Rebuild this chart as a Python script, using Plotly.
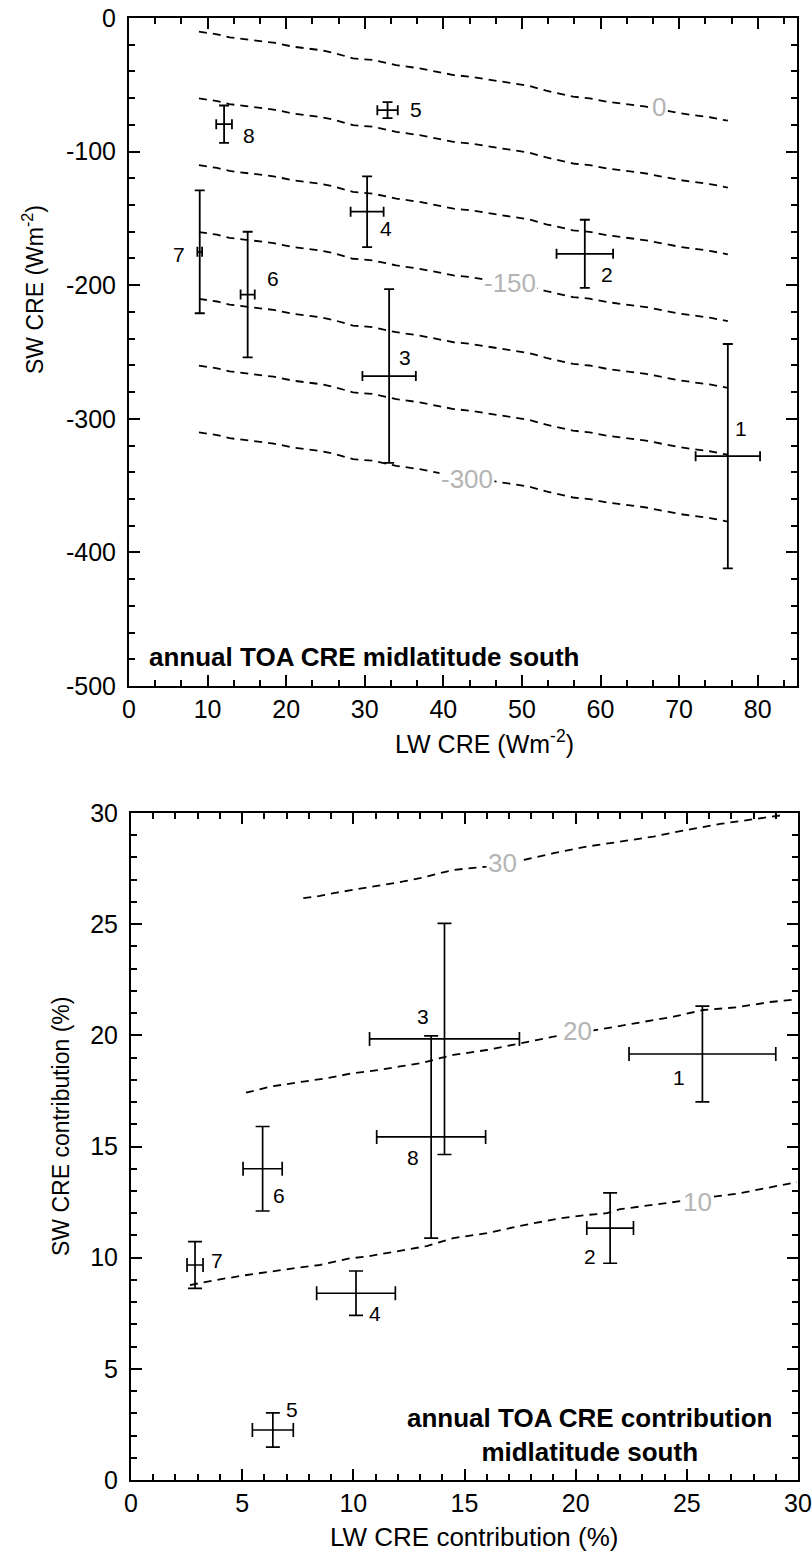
import plotly.graph_objects as go

# ---------------- data ----------------
point_ids = ["1", "2", "3", "4", "5", "6", "7", "8"]

# annual TOA CRE, midlatitude south (W m-2)
lw_cre = [76.2, 58.0, 33.1, 30.3, 32.9, 15.1, 9.0, 12.1]
lw_cre_err = [4.1, 3.6, 3.4, 2.1, 1.3, 0.9, 0.3, 1.0]
sw_cre = [-328.0, -176.5, -268.0, -145.0, -69.0, -207.0, -175.0, -79.5]
sw_cre_err = [84.0, 25.5, 65.0, 26.5, 6.0, 47.0, 46.0, 14.0]

# net CRE isolines: the zero line as traced, other levels are offsets of it
net_levels = [0, -50, -100, -150, -200, -250, -300]
net_zero_lw = [8.9, 11.2, 12.8, 17.5, 18.4, 20.9, 24.3, 26.0, 28.5, 31.0, 32.3, 34.0,
               37.0, 41.3, 43.4, 48.9, 51.0, 53.1, 56.5, 58.6, 60.8, 65.8, 70.1, 73.9, 76.2]
net_zero_sw = [-10.2, -12.2, -14.5, -17.7, -18.5, -21.5, -24.0, -26.0, -30.2, -31.4, -33.2, -35.2,
               -37.7, -42.7, -43.9, -48.9, -50.9, -54.4, -58.9, -60.1, -62.6, -66.4, -71.3, -74.3, -76.9]
net_labels = ["0", "-150", "-300"]
net_label_lw = [67.5, 48.5, 43.0]
net_label_sw = [-66.6, -198.4, -345.0]

# annual TOA CRE contribution, midlatitude south (%)
lw_pct = [25.7, 21.55, 14.1, 10.12, 6.38, 5.92, 2.88, 13.5]
lw_pct_err = [3.3, 1.05, 3.37, 1.77, 0.92, 0.88, 0.36, 2.45]
sw_pct = [19.16, 11.33, 19.84, 8.4, 2.25, 14.0, 9.67, 15.43]
sw_pct_err = [2.15, 1.58, 5.2, 1.0, 0.77, 1.9, 1.05, 4.55]

# contribution isolines (10, 20, 30 %)
iso10_lw = [2.65, 3.85, 5.2, 5.95, 7.3, 8.5, 9.85, 10.6, 11.95, 13.3, 14.5, 16.0, 17.5,
            19.3, 20.5, 21.4, 22.0, 23.5, 24.7, 26.2, 27.4, 28.75, 29.95]
iso10_sw = [8.77, 9.0, 9.22, 9.33, 9.52, 9.67, 9.97, 10.05, 10.27, 10.52, 10.88, 11.1, 11.43,
            11.77, 11.92, 12.0, 12.18, 12.37, 12.52, 12.74, 12.9, 13.17, 13.4]
iso20_lw = [5.17, 6.25, 7.75, 8.8, 10.0, 11.2, 12.1, 13.0, 13.9, 14.5, 16.0, 17.5, 19.0,
            21.1, 22.75, 24.4, 25.75, 27.25, 28.75, 29.95]
iso20_sw = [17.42, 17.69, 17.92, 18.07, 18.3, 18.45, 18.6, 18.74, 18.97, 19.12, 19.34, 19.64, 19.94,
            20.27, 20.54, 20.84, 21.14, 21.26, 21.5, 21.62]
iso30_lw = [7.75, 8.5, 9.25, 10.45, 11.5, 12.25, 13.0, 13.9, 14.5, 16.0, 17.8, 19.0, 20.5,
            22.0, 23.5, 25.0, 26.5, 28.0, 29.35]
iso30_sw = [26.17, 26.27, 26.42, 26.62, 26.77, 26.92, 27.07, 27.29, 27.44, 27.59, 27.92, 28.19, 28.49,
            28.71, 28.94, 29.24, 29.51, 29.72, 29.91]
iso_labels = ["30", "20", "10"]
iso_label_lw = [16.73, 20.1, 25.46]
iso_label_sw = [27.76, 20.2, 12.5]

# tick labels
top_x_ticks = [0, 10, 20, 30, 40, 50, 60, 70, 80]
top_y_ticks = [0, -100, -200, -300, -400, -500]
top_y_ticktext = ["0", "-100", "-200", "-300", "-400", "-500"]
pct_ticks = [0, 5, 10, 15, 20, 25, 30]

# ---------------- styling ----------------
W, H = 812, 1558
FONT = "Liberation Sans, Arial, Helvetica, sans-serif"
GREY = "#b4b4b4"

# pixel offsets of the numbered labels relative to their crosses
top_label_shift = [(13, 28), (22, -21), (16, 19), (19, -17), (28, 1), (25, 16), (-21, -3), (25, -11)]
bot_label_shift = [(-23, -23), (-20, -28), (-21, 22), (19, -20), (19, 20), (16, -27), (22, 5), (-18, -21)]


def px_x(p):
    return p / W


def px_y(p):
    return 1 - p / H


fig = go.Figure()

# net CRE dashed isolines
for lev in net_levels:
    fig.add_trace(go.Scatter(
        x=net_zero_lw, y=[v + lev for v in net_zero_sw], mode="lines",
        line=dict(color="black", width=1.8, dash="8px,6px"),
        xaxis="x", yaxis="y", hoverinfo="skip", showlegend=False))

# top panel error crosses
fig.add_trace(go.Scatter(
    x=lw_cre, y=sw_cre, mode="markers", marker=dict(size=1, color="black"),
    error_x=dict(type="data", array=lw_cre_err, color="black", thickness=1.8, width=5),
    error_y=dict(type="data", array=sw_cre_err, color="black", thickness=1.8, width=5),
    xaxis="x", yaxis="y", showlegend=False))

# contribution isolines
for xs, ys in [(iso10_lw, iso10_sw), (iso20_lw, iso20_sw), (iso30_lw, iso30_sw)]:
    fig.add_trace(go.Scatter(
        x=xs, y=ys, mode="lines",
        line=dict(color="black", width=1.8, dash="8px,6px"),
        xaxis="x2", yaxis="y2", hoverinfo="skip", showlegend=False))

# bottom panel error crosses
fig.add_trace(go.Scatter(
    x=lw_pct, y=sw_pct, mode="markers", marker=dict(size=1, color="black"),
    error_x=dict(type="data", array=lw_pct_err, color="black", thickness=1.7, width=7),
    error_y=dict(type="data", array=sw_pct_err, color="black", thickness=1.7, width=7),
    xaxis="x2", yaxis="y2", showlegend=False))

annotations = []
for i, lab in enumerate(point_ids):
    dx, dy = top_label_shift[i]
    annotations.append(dict(x=lw_cre[i], y=sw_cre[i], xref="x", yref="y", text=lab,
                            showarrow=False, xshift=dx, yshift=dy,
                            font=dict(family=FONT, size=21, color="black")))
    dx, dy = bot_label_shift[i]
    annotations.append(dict(x=lw_pct[i], y=sw_pct[i], xref="x2", yref="y2", text=lab,
                            showarrow=False, xshift=dx, yshift=dy,
                            font=dict(family=FONT, size=21, color="black")))

for t, xv, yv in zip(net_labels, net_label_lw, net_label_sw):
    annotations.append(dict(x=xv, y=yv, xref="x", yref="y", text=t, showarrow=False,
                            bgcolor="white", borderpad=1,
                            font=dict(family=FONT, size=26, color=GREY)))
for t, xv, yv in zip(iso_labels, iso_label_lw, iso_label_sw):
    annotations.append(dict(x=xv, y=yv, xref="x2", yref="y2", text=t, showarrow=False,
                            bgcolor="white", borderpad=1,
                            font=dict(family=FONT, size=26, color=GREY)))


def paper_text(xp, yp, text, size, angle=0, xanchor="center", bold=False):
    return dict(x=px_x(xp), y=px_y(yp), xref="paper", yref="paper",
                xanchor=xanchor, yanchor="middle", showarrow=False, align="center",
                textangle=angle, text=f"<b>{text}</b>" if bold else text,
                font=dict(family=FONT, size=size, color="black"))


# panel captions
annotations.append(paper_text(147, 657, "annual TOA CRE midlatitude south", 26,
                              xanchor="left", bold=True))
annotations.append(paper_text(589, 1435, "annual TOA CRE contribution<br>midlatitude south", 26,
                              bold=True))

# axis titles
annotations.append(paper_text(485, 742, "LW CRE (Wm<sup>-2</sup>)", 25))
annotations.append(paper_text(33, 290, "SW CRE (Wm<sup>-2</sup>)", 23, angle=-90))
annotations.append(paper_text(474, 1537, "LW CRE contribution (%)", 26))
annotations.append(paper_text(61, 1127, "SW CRE contribution (%)", 23, angle=-90))


def axis_style(rng, tickvals, ticktext, minor_dtick, domain, anchor, standoff):
    return dict(
        range=rng, domain=domain, anchor=anchor, autorange=False, automargin=False,
        tickmode="array", tickvals=tickvals, ticktext=ticktext,
        ticks="inside", ticklen=11, tickwidth=2, tickcolor="black",
        minor=dict(tick0=0, dtick=minor_dtick, ticks="inside", ticklen=6, tickwidth=1.5,
                   tickcolor="black", showgrid=False),
        showline=True, linewidth=2, linecolor="black", mirror="ticks",
        showgrid=False, zeroline=False, ticklabelstandoff=standoff,
        tickfont=dict(family=FONT, size=25, color="black"),
    )


fig.update_layout(
    width=W, height=H, paper_bgcolor="white", plot_bgcolor="white",
    margin=dict(l=0, r=0, t=0, b=0, autoexpand=False), showlegend=False,
    xaxis=axis_style([0, 85], top_x_ticks, [str(v) for v in top_x_ticks], 10 / 3,
                     [px_x(129), px_x(797)], "y", 0),
    yaxis=axis_style([-500, 0], top_y_ticks, top_y_ticktext, 20,
                     [px_y(686), px_y(18)], "x", 6),
    xaxis2=axis_style([0, 30], pct_ticks, [str(v) for v in pct_ticks], 1,
                      [px_x(131), px_x(798)], "y2", 0),
    yaxis2=axis_style([0, 30], pct_ticks, [str(v) for v in pct_ticks], 1,
                      [px_y(1480), px_y(813)], "x2", 6),
    annotations=annotations,
)

fig.write_html("out.html")
